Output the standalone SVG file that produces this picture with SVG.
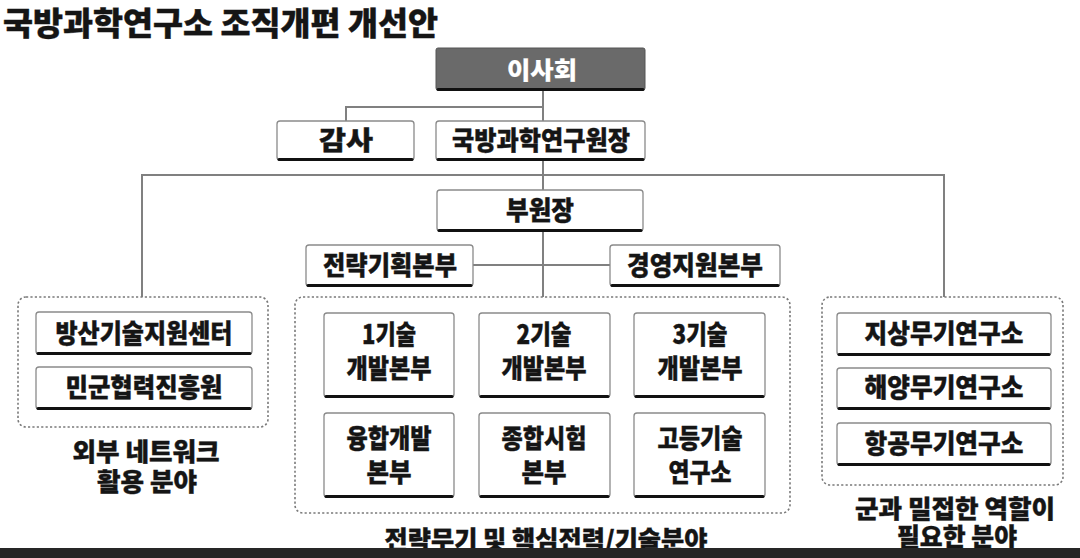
<svg xmlns="http://www.w3.org/2000/svg" width="1080" height="558" viewBox="0 0 1080 558">
<style>
text{font-family:"Noto Sans CJK KR","Noto Sans",sans-serif;font-weight:900;fill:#151515;stroke:#151515;stroke-width:0.4;text-anchor:middle}
.box{fill:#fff;stroke:#8a8a8a;stroke-width:1.3}
.shadow{stroke:#111;stroke-width:3;stroke-linecap:round}
.dash{fill:none;stroke:#7a7a7a;stroke-width:1.6;stroke-dasharray:2.2 2.2}
.conn{fill:none;stroke:#808080;stroke-width:2}
.lbl{font-size:25px}
.bt{font-size:26px}
</style>
<rect x="0" y="0" width="1080" height="558" fill="#fff"/>
<text x="3" y="35" style="text-anchor:start;font-size:32px" textLength="435" lengthAdjust="spacingAndGlyphs">국방과학연구소 조직개편 개선안</text>

<g id="connectors">
<path class="conn" d="M543 90V297"/>
<path class="conn" d="M543 107H346V121"/>
<path class="conn" d="M142 297V175H944V297"/>
<path class="conn" d="M473 265H610"/>
</g>

<g id="group-left"><rect class="dash" x="18" y="297" width="250" height="130" rx="8"/></g>
<g id="group-center"><rect class="dash" x="295" y="297" width="495" height="216" rx="8"/></g>
<g id="group-right"><rect class="dash" x="822" y="297" width="241" height="188" rx="8"/></g>

<g id="n-board"><rect x="436" y="48" width="209" height="42" rx="2" fill="#6a6a6a" stroke="#555" stroke-width="1"/><path class="shadow" d="M438 89.5H643"/><text x="542" y="79" style="font-size:24px;fill:#fff;stroke:#fff;stroke-width:0.2" textLength="70" lengthAdjust="spacingAndGlyphs">이사회</text></g>

<g id="n-audit"><rect class="box" x="277" y="121" width="137" height="39" rx="3"/><path class="shadow" d="M279 159.5H412"/><text class="bt" x="346" y="150" textLength="54" lengthAdjust="spacingAndGlyphs">감사</text></g>
<g id="n-director"><rect class="box" x="436" y="121" width="209" height="39" rx="3"/><path class="shadow" d="M438 159.5H643"/><text class="bt" x="541" y="150" textLength="178" lengthAdjust="spacingAndGlyphs">국방과학연구원장</text></g>
<g id="n-vice"><rect class="box" x="437" y="190" width="206" height="41" rx="3"/><path class="shadow" d="M439 230.5H641"/><text class="bt" x="540" y="220" textLength="68" lengthAdjust="spacingAndGlyphs">부원장</text></g>
<g id="n-strategy"><rect class="box" x="306" y="245" width="167" height="41" rx="3"/><path class="shadow" d="M308 285.5H471"/><text class="bt" x="390" y="275" textLength="134" lengthAdjust="spacingAndGlyphs">전략기획본부</text></g>
<g id="n-mgmt"><rect class="box" x="610" y="245" width="170" height="41" rx="3"/><path class="shadow" d="M612 285.5H778"/><text class="bt" x="695" y="275" textLength="136" lengthAdjust="spacingAndGlyphs">경영지원본부</text></g>

<g id="n-tech1"><rect class="box" x="324" y="313" width="130" height="84" rx="3"/><path class="shadow" d="M326 396.5H452"/><text class="bt" x="389" y="344" textLength="54" lengthAdjust="spacingAndGlyphs">1기술</text><text class="bt" x="389" y="378" textLength="85" lengthAdjust="spacingAndGlyphs">개발본부</text></g>
<g id="n-tech2"><rect class="box" x="479" y="313" width="131" height="84" rx="3"/><path class="shadow" d="M481 396.5H608"/><text class="bt" x="544" y="344" textLength="55" lengthAdjust="spacingAndGlyphs">2기술</text><text class="bt" x="544" y="378" textLength="85" lengthAdjust="spacingAndGlyphs">개발본부</text></g>
<g id="n-tech3"><rect class="box" x="634" y="313" width="131" height="84" rx="3"/><path class="shadow" d="M636 396.5H763"/><text class="bt" x="700" y="344" textLength="55" lengthAdjust="spacingAndGlyphs">3기술</text><text class="bt" x="700" y="378" textLength="85" lengthAdjust="spacingAndGlyphs">개발본부</text></g>
<g id="n-fusion"><rect class="box" x="324" y="413" width="130" height="84" rx="3"/><path class="shadow" d="M326 496.5H452"/><text class="bt" x="389" y="448" textLength="85" lengthAdjust="spacingAndGlyphs">융합개발</text><text class="bt" x="389" y="482" textLength="45" lengthAdjust="spacingAndGlyphs">본부</text></g>
<g id="n-test"><rect class="box" x="479" y="413" width="131" height="84" rx="3"/><path class="shadow" d="M481 496.5H608"/><text class="bt" x="544" y="448" textLength="85" lengthAdjust="spacingAndGlyphs">종합시험</text><text class="bt" x="544" y="482" textLength="45" lengthAdjust="spacingAndGlyphs">본부</text></g>
<g id="n-advanced"><rect class="box" x="634" y="413" width="131" height="84" rx="3"/><path class="shadow" d="M636 496.5H763"/><text class="bt" x="700" y="448" textLength="85" lengthAdjust="spacingAndGlyphs">고등기술</text><text class="bt" x="700" y="482" textLength="63" lengthAdjust="spacingAndGlyphs">연구소</text></g>

<g id="n-dtsc"><rect class="box" x="36" y="312" width="216" height="42" rx="3"/><path class="shadow" d="M38 353.5H250"/><text class="bt" x="144" y="343" textLength="177" lengthAdjust="spacingAndGlyphs">방산기술지원센터</text></g>
<g id="n-civil"><rect class="box" x="36" y="367" width="216" height="42" rx="3"/><path class="shadow" d="M38 408.5H250"/><text class="bt" x="144" y="397" textLength="157" lengthAdjust="spacingAndGlyphs">민군협력진흥원</text></g>

<g id="n-land"><rect class="box" x="837" y="313" width="214" height="42" rx="3"/><path class="shadow" d="M839 354.5H1049"/><text class="bt" x="944" y="343" textLength="159" lengthAdjust="spacingAndGlyphs">지상무기연구소</text></g>
<g id="n-sea"><rect class="box" x="837" y="368" width="214" height="41" rx="3"/><path class="shadow" d="M839 408.5H1049"/><text class="bt" x="944" y="397" textLength="159" lengthAdjust="spacingAndGlyphs">해양무기연구소</text></g>
<g id="n-air"><rect class="box" x="837" y="423" width="214" height="42" rx="3"/><path class="shadow" d="M839 464.5H1049"/><text class="bt" x="944" y="453" textLength="159" lengthAdjust="spacingAndGlyphs">항공무기연구소</text></g>

<g id="labels">
<text class="lbl" x="146" y="461" textLength="147" lengthAdjust="spacingAndGlyphs">외부 네트워크</text>
<text class="lbl" x="147" y="491" textLength="100" lengthAdjust="spacingAndGlyphs">활용 분야</text>
<text class="lbl" x="546" y="549" textLength="323" lengthAdjust="spacingAndGlyphs">전략무기 및 핵심전력/기술분야</text>
<text class="lbl" x="955" y="518" textLength="200" lengthAdjust="spacingAndGlyphs">군과 밀접한 역할이</text>
<text class="lbl" x="957" y="546" textLength="120" lengthAdjust="spacingAndGlyphs">필요한 분야</text>
</g>
<rect x="0" y="548" width="1080" height="10" fill="#262626"/>
</svg>
